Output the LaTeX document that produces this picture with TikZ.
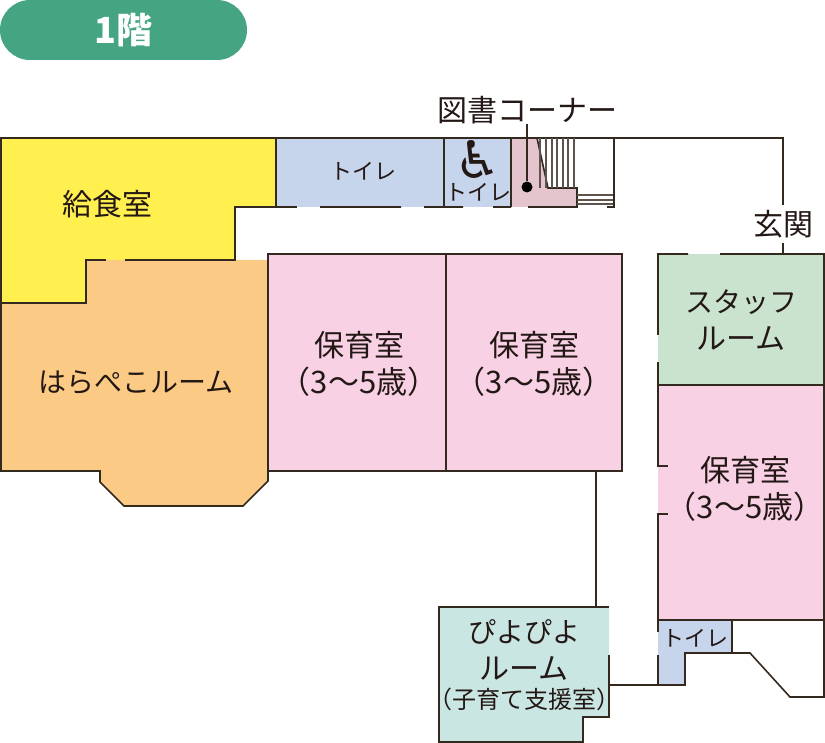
\documentclass[tikz,border=0pt]{standalone}
\usepackage{fontspec}
\setmainfont{Noto Sans CJK JP}
\newcommand{\fsmid}{\fontsize{28}{35}\selectfont}
\newcommand{\fswide}{\fontsize{31}{37}\selectfont}
\tikzset{
  wall/.style={draw=wallc,line width=1.6pt},
  stair/.style={draw=wallc!80,line width=1.2pt},
  lbl/.style={align=center,text=textc,font=\fontsize{30}{37}\selectfont,inner sep=0pt},
  smalllbl/.style={lbl,font=\fontsize{22}{26}\selectfont}
}
\definecolor{wallc}{HTML}{33291F}
\definecolor{textc}{HTML}{231815}
\definecolor{badgec}{HTML}{45A583}
\definecolor{kitchenc}{HTML}{FFF050}
\definecolor{hallc}{HTML}{FBCB85}
\definecolor{pinkc}{HTML}{F8D2E4}
\definecolor{bluec}{HTML}{C6D5EC}
\definecolor{rosec}{HTML}{E4C5CE}
\definecolor{greenc}{HTML}{C9E3CF}
\definecolor{tealc}{HTML}{C9E6E3}
\begin{document}
\begin{tikzpicture}[x=1pt,y=-1pt]
  \useasboundingbox (0,0) rectangle (825,743);
  % room fills
  \fill[kitchenc] (0,138) -- (276,138) -- (276,207) -- (235,207) -- (235,260) -- (86,260) -- (86,303) -- (0,303) -- cycle;
  \fill[hallc] (0,303) -- (86,303) -- (86,260) -- (268,260) -- (268,481) -- (243,506) -- (124,506) -- (100,482) -- (100,471) -- (0,471) -- cycle;
  \fill[pinkc] (268,254) rectangle (622,471);
  \fill[bluec] (276,138) rectangle (511,207);
  \fill[rosec] (511,138) -- (537,138) -- (548,188) -- (577,188) -- (577,207) -- (511,207) -- cycle;
  \fill[greenc] (658,254) rectangle (824,385);
  \fill[pinkc] (658,385) rectangle (824,620);
  \fill[bluec] (658,620) -- (732,620) -- (732,653) -- (685,653) -- (685,685) -- (658,685) -- cycle;
  \fill[tealc] (439,607) -- (609,607) -- (609,717) -- (583,717) -- (583,742) -- (439,742) -- cycle;
  % walls
  \draw[wall] (783,205) -- (783,138) -- (1,138) -- (1,471) -- (100,471) -- (100,482) -- (124,506) -- (243,506) -- (268,481) -- (268,254) -- (622,254) -- (622,471) -- (268,471);
  \draw[wall] (1,303) -- (86,303) -- (86,260) -- (106,260);
  \draw[wall] (125,260) -- (235,260) -- (235,207) -- (297,207);
  \draw[wall] (276,138) -- (276,207) (444,138) -- (444,207) (446,254) -- (446,471);
  \draw[wall] (320,207) -- (401,207) (424,207) -- (463,207) (493,207) -- (511,207) (528,207) -- (577,207) -- (577,188) -- (548,188) -- (537,138);
  \draw[wall] (511,138) -- (511,207);
  \draw[wall] (607,207) -- (614,207) -- (614,138);
  % stairs
  \foreach \sx in {540,546,552,557,563,568,574}
    \draw[stair] (\sx,138) -- (\sx,188);
  \foreach \sy in {195,200,204}
    \draw[stair] (577,\sy) -- (613,\sy);
  % east wing
  \draw[wall] (658,335) -- (658,254) -- (688,254) (720,254) -- (824,254) -- (824,697) -- (790,697) -- (750,653) -- (685,653) -- (685,685) -- (609,685);
  \draw[wall] (783,243) -- (783,254);
  \draw[wall] (658,362) -- (658,466) -- (668,466) (668,514) -- (658,514) -- (658,632);
  \draw[wall] (658,385) -- (824,385) (658,620) -- (824,620) (732,620) -- (732,653);
  \draw[wall] (658,655) -- (658,685);
  % nursery
  \draw[wall] (596,471) -- (596,607) (609,607) -- (439,607) -- (439,742) -- (583,742) -- (583,717) -- (609,717) -- (609,655);
  % badge
  \node[fill=badgec,rounded corners=30pt,minimum width=247pt,minimum height=60pt,inner sep=0pt,text=white,font=\fontsize{36}{40}\selectfont\bfseries] (badge) at (123.5,30) {1階};
  % labels
  \node[lbl] (kitchen) at (107,204) {給食室};
  \node[lbl,font=\fsmid] (hall) at (136,382) {はらぺこルーム};
  \node[lbl] (room1) at (359,364) {保育室\\{\fswide（3〜5歳）}};
  \node[lbl] (room2) at (534,364) {保育室\\{\fswide（3〜5歳）}};
  \node[lbl] (room3) at (745,489) {保育室\\{\fswide（3〜5歳）}};
  \node[lbl] (staff) at (741,320) {{\fsmid スタッフ}\\ルーム};
  \node[smalllbl] (wc1) at (363,171) {トイレ};
  \node[smalllbl] (wc2) at (478,192) {トイレ};
  \node[smalllbl] (wc3) at (695,638) {トイレ};
  \node[lbl] (nursery) at (524,650) {{\fsmid ぴよぴよ}\\ルーム};
  \node[smalllbl,font=\fontsize{24}{28}\selectfont] (support) at (524,699) {（子育て支援室）};
  \node[lbl] (books) at (527,110) {図書コーナー};
  \node[lbl] (entrance) at (783,224) {玄関};
  % pointer to the book corner
  \node[fill=black,circle,minimum size=11pt,inner sep=0pt] (bookdot) at (527,187) {};
  \draw[wallc,line width=1.2pt] (books) -- (bookdot);
  % wheelchair mark
  \node[font=\fontsize{52}{52}\selectfont,text=textc,inner sep=0pt] (chair) at (478,159) {\fontspec{DejaVu Sans}♿};
\end{tikzpicture}
\end{document}
